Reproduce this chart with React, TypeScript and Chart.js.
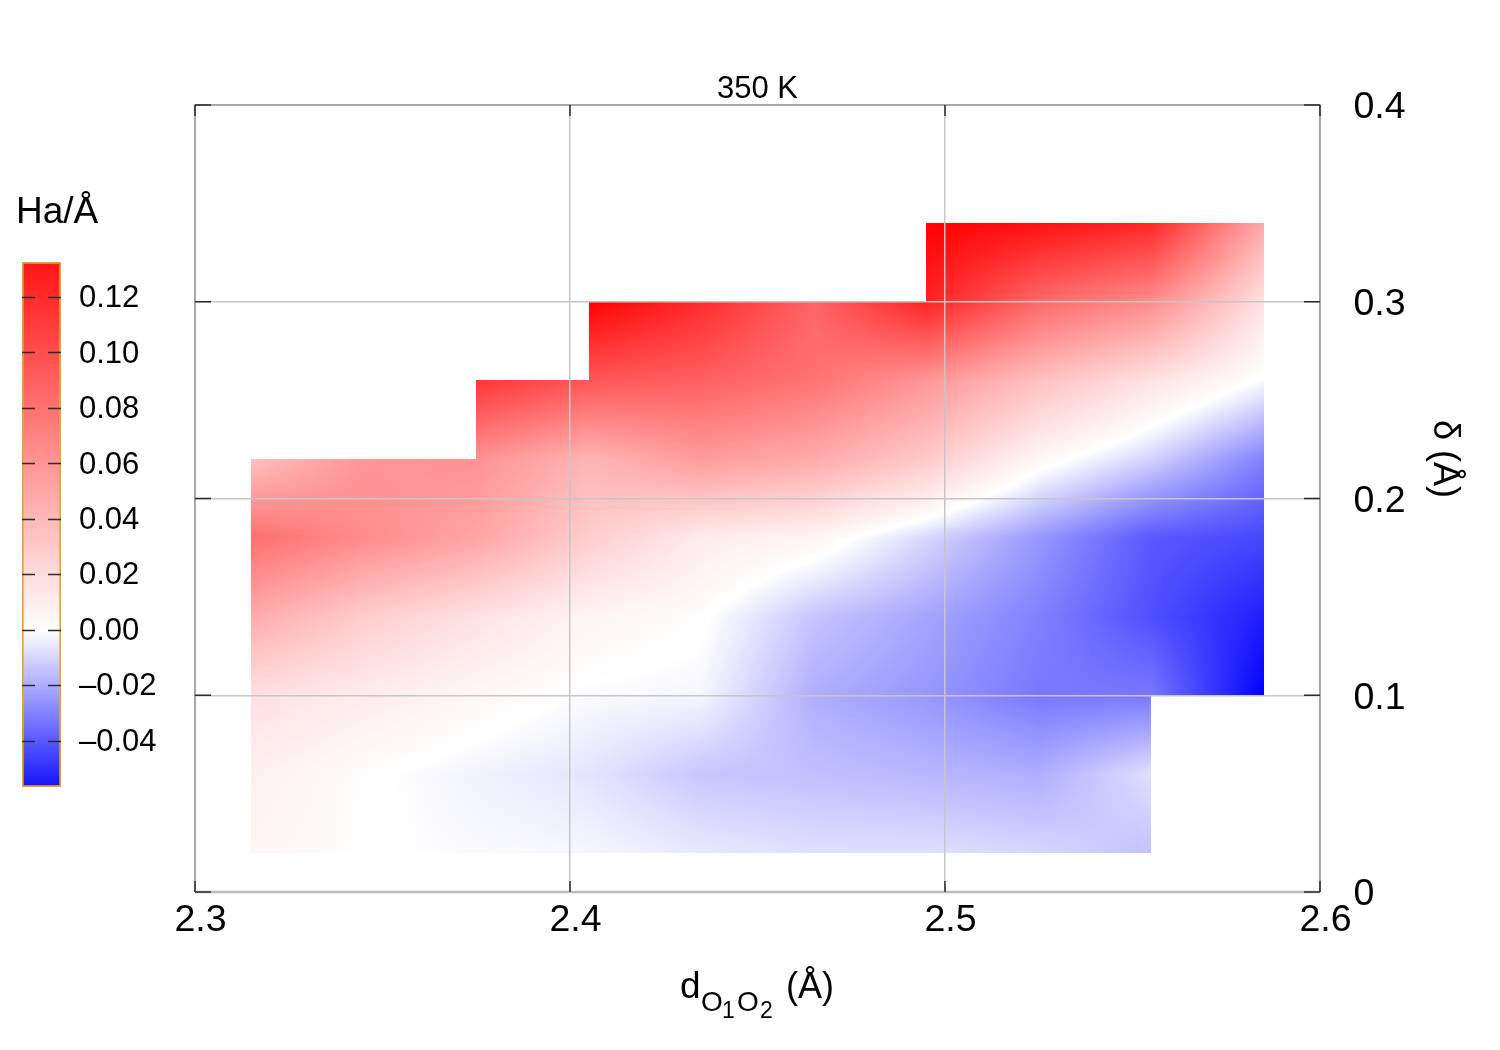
import React, { useEffect, useRef } from "react";
import { Chart, registerables } from "chart.js";

Chart.register(...registerables);

const FONT = '"Liberation Sans", Arial, sans-serif';
const xNodes = [2.315, 2.345, 2.375, 2.405, 2.435, 2.465, 2.495, 2.525, 2.555, 2.585];
const yNodes = [0.02, 0.06, 0.1, 0.14, 0.18, 0.22, 0.26, 0.3, 0.34];
const row002 = [0.005, 0.0005, -0.001, -0.002, -0.005, -0.007, -0.007, -0.009, -0.0135, null];
const row006 = [0.008, 0.001, -0.003, -0.006, -0.0125, -0.014, -0.016, -0.018, -0.007, null];
const row010 = [0.016, 0.01, 0.004, -0.001, -0.002, -0.018, -0.023, -0.03, -0.03, -0.0566];
const row014 = [0.044, 0.026, 0.015, 0.005, 0.001, -0.013, -0.02, -0.028, -0.039, -0.05];
const row018 = [0.075, 0.06, 0.047, 0.026, 0.01, 0.005, -0.009, -0.023, -0.037, -0.041];
const row022 = [0.032, 0.055, 0.057, 0.039, 0.052, 0.044, 0.028, 0.004, -0.01, -0.028];
const row026 = [null, null, 0.105, 0.088, 0.083, 0.073, 0.055, 0.033, 0.015, -0.001];
const row030 = [null, null, null, 0.132, 0.11, 0.08, 0.115, 0.078, 0.06, 0.015];
const row034 = [null, null, null, null, null, null, 0.1326, 0.124, 0.112, 0.045];
const rows = [row002, row006, row010, row014, row018, row022, row026, row030, row034];
const cbMin = -0.0566;
const cbMax = 0.1326;
const cbStops = [cbMin, 0, cbMax];
const xTicks = [2.3, 2.4, 2.5, 2.6];
const yTicks = [0, 0.1, 0.2, 0.3, 0.4];

function shade(v: number): [number, number, number] {
  if (v >= 0) {
    const g = Math.round(255 * (1 - Math.min(1, v / cbMax)));
    return [255, g, g];
  }
  const r = Math.round(255 * (1 - Math.min(1, v / cbMin)));
  return [r, r, 255];
}

const heatPlugin = {
  id: "heat",
  beforeDatasetsDraw(chart: any) {
    const { ctx, scales } = chart;
    for (let j = 0; j < yNodes.length - 1; j++) {
      for (let i = 0; i < xNodes.length - 1; i++) {
        const a = rows[j][i], b = rows[j][i + 1], c = rows[j + 1][i], d = rows[j + 1][i + 1];
        if (a === null || b === null || c === null || d === null) continue;
        const x0 = Math.round(scales.x.getPixelForValue(xNodes[i]));
        const x1 = Math.round(scales.x.getPixelForValue(xNodes[i + 1]));
        const y0 = Math.round(scales.y.getPixelForValue(yNodes[j + 1]));
        const y1 = Math.round(scales.y.getPixelForValue(yNodes[j]));
        const w = x1 - x0, h = y1 - y0;
        const img = ctx.createImageData(w, h);
        for (let py = 0; py < h; py++) {
          const t = 1 - (py + 0.5) / h;
          for (let px = 0; px < w; px++) {
            const s = (px + 0.5) / w;
            const v = (a * (1 - s) + b * s) * (1 - t) + (c * (1 - s) + d * s) * t;
            const [r, g, bl] = shade(v);
            const k = (py * w + px) * 4;
            img.data[k] = r;
            img.data[k + 1] = g;
            img.data[k + 2] = bl;
            img.data[k + 3] = 255;
          }
        }
        ctx.putImageData(img, x0, y0);
      }
    }
  },
};

const framePlugin = {
  id: "frame",
  afterDraw(chart: any) {
    const { ctx, chartArea: a, scales } = chart;
    ctx.save();
    ctx.strokeStyle = "#9a9a9a";
    ctx.lineWidth = 1.5;
    ctx.beginPath();
    ctx.moveTo(a.left, a.bottom);
    ctx.lineTo(a.left, a.top);
    ctx.lineTo(a.right, a.top);
    ctx.lineTo(a.right, a.bottom);
    ctx.stroke();
    ctx.strokeStyle = "#bdbdbd";
    ctx.lineWidth = 2.5;
    ctx.beginPath();
    ctx.moveTo(a.left, a.bottom);
    ctx.lineTo(a.right, a.bottom);
    ctx.stroke();
    ctx.strokeStyle = "#2b2b2b";
    ctx.lineWidth = 1.5;
    ctx.beginPath();
    for (const t of xTicks) {
      const x = scales.x.getPixelForValue(t);
      ctx.moveTo(x, a.bottom);
      ctx.lineTo(x, a.bottom - 11);
      ctx.moveTo(x, a.top);
      ctx.lineTo(x, a.top + 11);
    }
    for (const t of yTicks) {
      const y = scales.y.getPixelForValue(t);
      ctx.moveTo(a.left, y);
      ctx.lineTo(a.left + 16, y);
      ctx.moveTo(a.right, y);
      ctx.lineTo(a.right - 16, y);
    }
    ctx.stroke();
    ctx.fillStyle = "#000";
    ctx.textBaseline = "alphabetic";
    ctx.textAlign = "left";
    ctx.font = `31px ${FONT}`;
    ctx.fillText("350 K", 717, 98);
    ctx.font = `37px ${FONT}`;
    ctx.fillText("d", 680, 998);
    ctx.font = `28px ${FONT}`;
    ctx.fillText("O", 701, 1011);
    ctx.fillText("O", 737, 1011);
    ctx.font = `23px ${FONT}`;
    ctx.fillText("1", 722, 1018);
    ctx.fillText("2", 760, 1018);
    ctx.font = `36px ${FONT}`;
    ctx.fillText("(Å)", 786, 998);
    ctx.save();
    ctx.translate(1434, 420);
    ctx.rotate(Math.PI / 2);
    ctx.fillText("δ (Å)", 0, 0);
    ctx.restore();
    ctx.restore();
  },
};

const colorbarPlugin = {
  id: "colorbarMarks",
  afterDraw(chart: any) {
    const { ctx, chartArea: a, scales } = chart;
    ctx.save();
    ctx.strokeStyle = "#2b2b2b";
    ctx.lineWidth = 1.5;
    ctx.beginPath();
    for (const t of scales.y.ticks) {
      const y = Math.round(scales.y.getPixelForValue(t.value)) + 0.5;
      ctx.moveTo(a.left, y);
      ctx.lineTo(a.left + 13, y);
      ctx.moveTo(a.right - 13, y);
      ctx.lineTo(a.right, y);
    }
    ctx.stroke();
    ctx.fillStyle = "#000";
    ctx.font = `37px ${FONT}`;
    ctx.textBaseline = "alphabetic";
    ctx.fillText("Ha/Å", 16, 223);
    ctx.restore();
  },
};

export default function App() {
  const mainRef = useRef<HTMLCanvasElement>(null);
  const barRef = useRef<HTMLCanvasElement>(null);

  useEffect(() => {
    document.body.style.margin = "0";
    const points: any[] = [];
    rows.forEach((r, j) =>
      r.forEach((v, i) => {
        if (v !== null) points.push({ x: xNodes[i], y: yNodes[j], v });
      })
    );
    const main = new Chart(mainRef.current as any, {
      type: "scatter",
      data: { datasets: [{ label: "350 K", data: points, pointRadius: 0, pointHoverRadius: 0 }] },
      plugins: [heatPlugin, framePlugin],
      options: {
        animation: false,
        responsive: false,
        layout: { padding: { left: 195, top: 105, right: 0, bottom: 0 } },
        plugins: { legend: { display: false }, tooltip: { enabled: false } },
        scales: {
          x: {
            type: "linear",
            min: 2.3,
            max: 2.6,
            afterFit: (s: any) => { s.height = 158; },
            afterBuildTicks: (s: any) => { s.ticks = xTicks.map((value) => ({ value })); },
            grid: { z: 1, color: "#c6c6c6", lineWidth: 1.5, drawTicks: false },
            border: { display: false },
            ticks: {
              padding: 6,
              labelOffset: 5.5,
              maxRotation: 0,
              autoSkip: false,
              color: "#000",
              font: { family: FONT, size: 37.5 },
              callback: (v: any) => Number(v).toFixed(1),
            },
          },
          y: {
            type: "linear",
            position: "right",
            min: 0,
            max: 0.4,
            afterFit: (s: any) => { s.width = 180; },
            afterBuildTicks: (s: any) => { s.ticks = yTicks.map((value) => ({ value })); },
            grid: { z: 1, color: "#c6c6c6", lineWidth: 1.5, drawTicks: false },
            border: { display: false },
            ticks: {
              padding: 33.5,
              labelOffset: 3,
              autoSkip: false,
              color: "#000",
              font: { family: FONT, size: 37.5 },
              callback: (v: any) => (Number(v) === 0 ? "0" : Number(v).toFixed(1)),
            },
          },
        },
      },
    } as any);

    const bar = new Chart(barRef.current as any, {
      type: "bar",
      data: {
        labels: ["Ha/Å"],
        datasets: [
          {
            label: "Ha/Å",
            data: [[cbMin, cbMax]],
            barPercentage: 1,
            categoryPercentage: 1,
            borderWidth: 2,
            borderColor: "#eda32a",
            borderSkipped: false,
            backgroundColor: (c: any) => {
              const area = c.chart.chartArea;
              if (!area) return "#fff";
              const g = c.chart.ctx.createLinearGradient(0, area.bottom, 0, area.top);
              cbStops.forEach((v) => {
                const [r, gg, b] = shade(v * 0.92);
                g.addColorStop((v - cbMin) / (cbMax - cbMin), `rgb(${r},${gg},${b})`);
              });
              return g;
            },
          },
        ],
      },
      plugins: [colorbarPlugin],
      options: {
        animation: false,
        responsive: false,
        layout: { padding: { left: 22, top: 262, right: 0, bottom: 263 } },
        plugins: { legend: { display: false }, tooltip: { enabled: false } },
        scales: {
          x: { display: false },
          y: {
            position: "right",
            min: cbMin,
            max: cbMax,
            afterFit: (s: any) => { s.width = 119; },
            grid: { display: false, drawTicks: false },
            border: { display: false },
            ticks: {
              stepSize: 0.02,
              includeBounds: false,
              padding: 18,
              labelOffset: 1.5,
              autoSkip: false,
              color: "#000",
              font: { family: FONT, size: 31 },
              callback: (v: any) =>
                Math.abs(Number(v)) < 1e-9 ? "0.00" : Number(v).toFixed(2).replace("-", "–"),
            },
          },
        },
      },
    } as any);

    return () => {
      main.destroy();
      bar.destroy();
    };
  }, []);

  return (
    <div style={{ position: "relative", width: 1500, height: 1050, background: "#fff" }}>
      <canvas ref={mainRef} width={1500} height={1050} style={{ position: "absolute", left: 0, top: 0 }} />
      <canvas ref={barRef} width={180} height={1050} style={{ position: "absolute", left: 0, top: 0 }} />
    </div>
  );
}
